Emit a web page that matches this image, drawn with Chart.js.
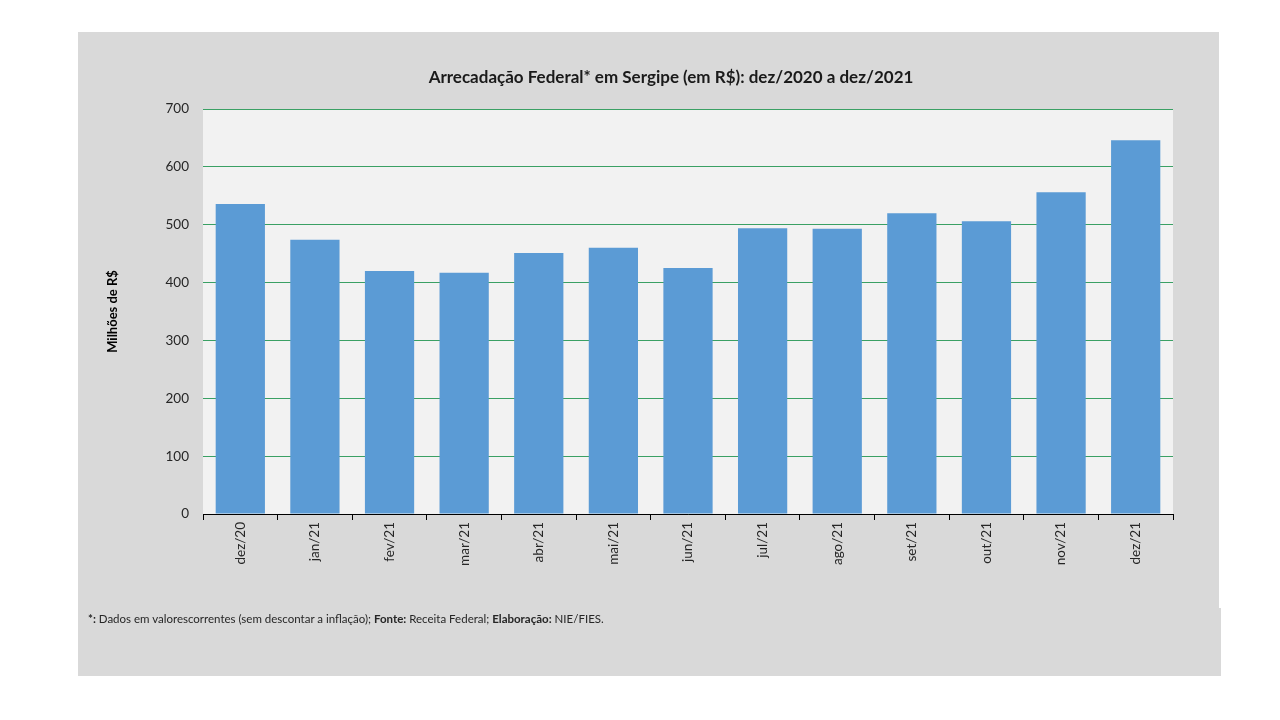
<!DOCTYPE html>
<html lang="pt">
<head>
  <meta charset="UTF-8">
  <title>Arrecadação Federal em Sergipe</title>
  <style>
    body {
      margin: 0;
      background: #fff;
      font-family: Lato, "Open Sans", sans-serif;
    }
    #panel {
      position: absolute;
      left: 78px;
      top: 32px;
      width: 1141px;
      height: 644px;
      background: #d9d9d9;
    }
    #notch {
      position: absolute;
      left: 1219px;
      top: 608px;
      width: 2px;
      height: 68px;
      background: #d9d9d9;
    }
    #chart {
      position: absolute;
      left: 0;
      top: 0;
    }
    #title {
      position: absolute;
      left: 0;
      width: 1186px;
      top: 34px;
      text-align: center;
      font-size: 17px;
      font-weight: bold;
      color: #1a1a1a;
    }
    #note {
      position: absolute;
      left: 10px;
      top: 580px;
      font-size: 11.5px;
      color: #262626;
    }
  </style>
  <script src="https://cdn.jsdelivr.net/npm/chart.js"></script>
</head>
<body>
  <div id="panel">
    <canvas id="chart" width="1141" height="644"></canvas>
    <div id="title">Arrecadação Federal* em Sergipe (em R$): dez/2020 a dez/2021</div>
    <div id="note"><b>*:</b> Dados em valorescorrentes (sem descontar a inflação); <b>Fonte:</b> Receita Federal; <b>Elaboração:</b> NIE/FIES.</div>
  </div>
  <div id="notch"></div>

  <script>
    // months and values (millions of R$)
    const months = ['dez/20', 'jan/21', 'fev/21', 'mar/21', 'abr/21', 'mai/21', 'jun/21',
                    'jul/21', 'ago/21', 'set/21', 'out/21', 'nov/21', 'dez/21'];
    const arrecadacao = [536, 474, 420, 417, 451, 460, 425, 494, 493, 520, 506, 556, 646];

    const yMin = 0;
    const yMax = 700;
    const yStep = 100;

    // light grey fill behind the plot area
    const plotBg = {
      id: 'plotBg',
      beforeDraw(chart) {
        const a = chart.chartArea;
        const ctx = chart.ctx;
        ctx.save();
        ctx.fillStyle = '#f2f2f2';
        ctx.fillRect(a.left, a.top, a.right - a.left, a.bottom - a.top);
        ctx.restore();
      }
    };

    const ctx = document.getElementById('chart').getContext('2d');
    new Chart(ctx, {
      type: 'bar',
      data: {
        labels: months,
        datasets: [{
          label: 'Arrecadação',
          data: arrecadacao,
          backgroundColor: '#5b9bd5',
          categoryPercentage: 1,
          barPercentage: 0.66
        }]
      },
      options: {
        responsive: false,
        animation: false,
        layout: { padding: { left: 27, right: 46, top: 77, bottom: 102 } },
        plugins: {
          legend: { display: false },
          tooltip: { enabled: false }
        },
        scales: {
          x: {
            afterFit(scale) { scale.height = 60; },
            border: { display: true, color: '#000', width: 1 },
            grid: {
              display: true,
              drawOnChartArea: false,
              drawTicks: true,
              tickLength: 6,
              color: '#000'
            },
            ticks: {
              minRotation: 90,
              maxRotation: 90,
              padding: 2,
              color: '#262626',
              font: { family: 'Lato', size: 13.5 }
            }
          },
          y: {
            min: yMin,
            max: yMax,
            afterFit(scale) { scale.width = 98; },
            border: { display: false },
            grid: {
              color: '#3aa064',
              drawTicks: false
            },
            ticks: {
              stepSize: yStep,
              padding: 14,
              color: '#262626',
              font: { family: 'Lato', size: 13.5 }
            },
            title: {
              display: true,
              text: 'Milhões de R$',
              color: '#000',
              font: { family: 'Lato', size: 13, weight: 'bold' },
              padding: 0
            }
          }
        }
      },
      plugins: [plotBg]
    });
  </script>
</body>
</html>
